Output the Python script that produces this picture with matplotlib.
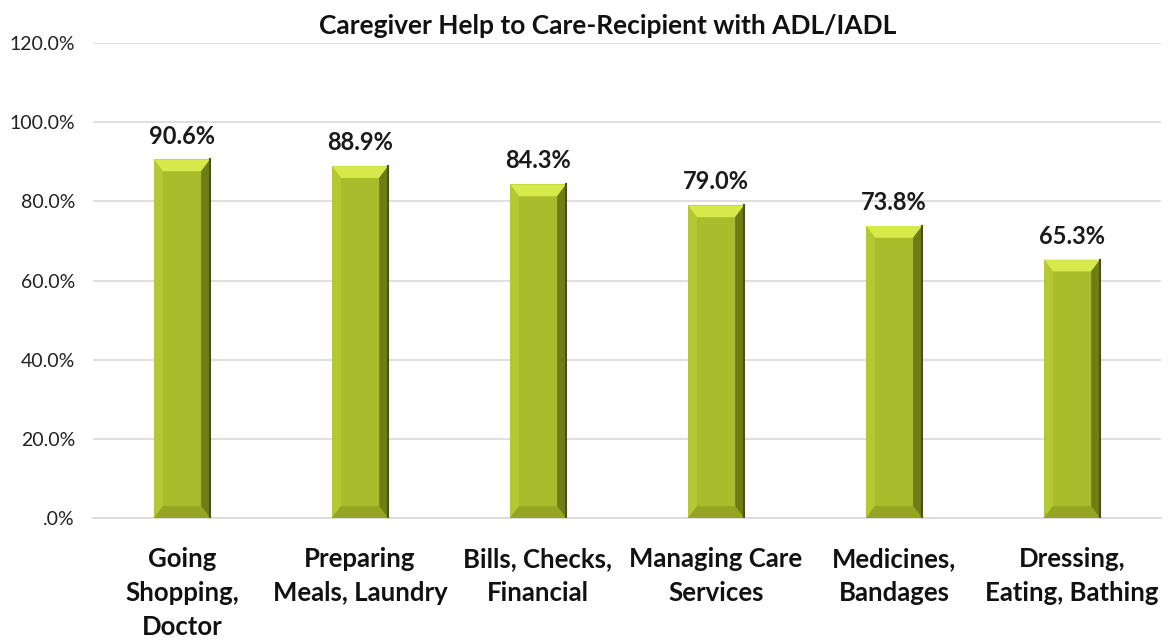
import numpy as np
import matplotlib.pyplot as plt
from matplotlib.patches import Polygon

# data
categories = ['Going\nShopping,\nDoctor', 'Preparing\nMeals, Laundry', 'Bills, Checks,\nFinancial',
              'Managing Care\nServices', 'Medicines,\nBandages', 'Dressing,\nEating, Bathing']
values = [90.6, 88.9, 84.3, 79.0, 73.8, 65.3]
yticks = [0, 20, 40, 60, 80, 100, 120]
ytick_labels = ['.0%', '20.0%', '40.0%', '60.0%', '80.0%', '100.0%', '120.0%']

plt.rcParams['font.family'] = ['Lato', 'DejaVu Sans']

fig = plt.figure(figsize=(11.68, 6.42), dpi=100)
ax = fig.add_axes([0.0796, 0.193, 0.9144, 0.74])

x = np.arange(len(values))
width = 0.315
bars = ax.bar(x, values, width=width, color='#A8BC2C', zorder=3)

# bevel look on each bar
bx = 0.05
by = 3.0
for b in bars:
    x0 = b.get_x()
    x1 = x0 + b.get_width()
    h = b.get_height()
    faces = [
        ([(x0, h), (x1, h), (x1 - bx, h - by), (x0 + bx, h - by)], '#D6EA4C'),
        ([(x1, h), (x1, 0), (x1 - bx, by), (x1 - bx, h - by)], '#6E7D14'),
        ([(x0, h), (x0, 0), (x0 + bx, by), (x0 + bx, h - by)], '#B4C834'),
        ([(x0, 0), (x1, 0), (x1 - bx, by), (x0 + bx, by)], '#93A521'),
    ]
    for pts, c in faces:
        ax.add_patch(Polygon(pts, closed=True, facecolor=c, edgecolor='none', zorder=4))
    ax.plot([x1, x1], [0, h], color='#4A5508', lw=1.5, zorder=5)
    ax.text(b.get_x() + b.get_width() / 2, h + 3.0, f'{h:.1f}%', ha='center', va='bottom',
            fontsize=17, fontweight='bold', color='#1a1a1a')

ax.set_xlim(-0.5, len(values) - 0.5)
ax.set_ylim(0, 120)
ax.set_yticks(yticks)
ax.set_yticklabels(ytick_labels, fontsize=14, color='#222222')
ax.set_xticks(x)
ax.set_xticklabels(categories, fontsize=18.5, fontweight='bold', color='#111111', linespacing=1.5)
ax.tick_params(axis='both', length=0)
ax.tick_params(axis='x', pad=21)
ax.tick_params(axis='y', pad=13)
ax.grid(axis='y', color='#D9D9D9', lw=1.2, zorder=0)
for s in ['top', 'right', 'left']:
    ax.spines[s].set_visible(False)
ax.spines['bottom'].set_color('#D9D9D9')
ax.spines['bottom'].set_linewidth(1.2)

fig.text(0.52, 0.96, 'Caregiver Help to Care-Recipient with ADL/IADL', ha='center', va='center',
         fontsize=19, fontweight='bold', color='#111111')

fig.savefig('out.png', dpi=100, facecolor='white')
